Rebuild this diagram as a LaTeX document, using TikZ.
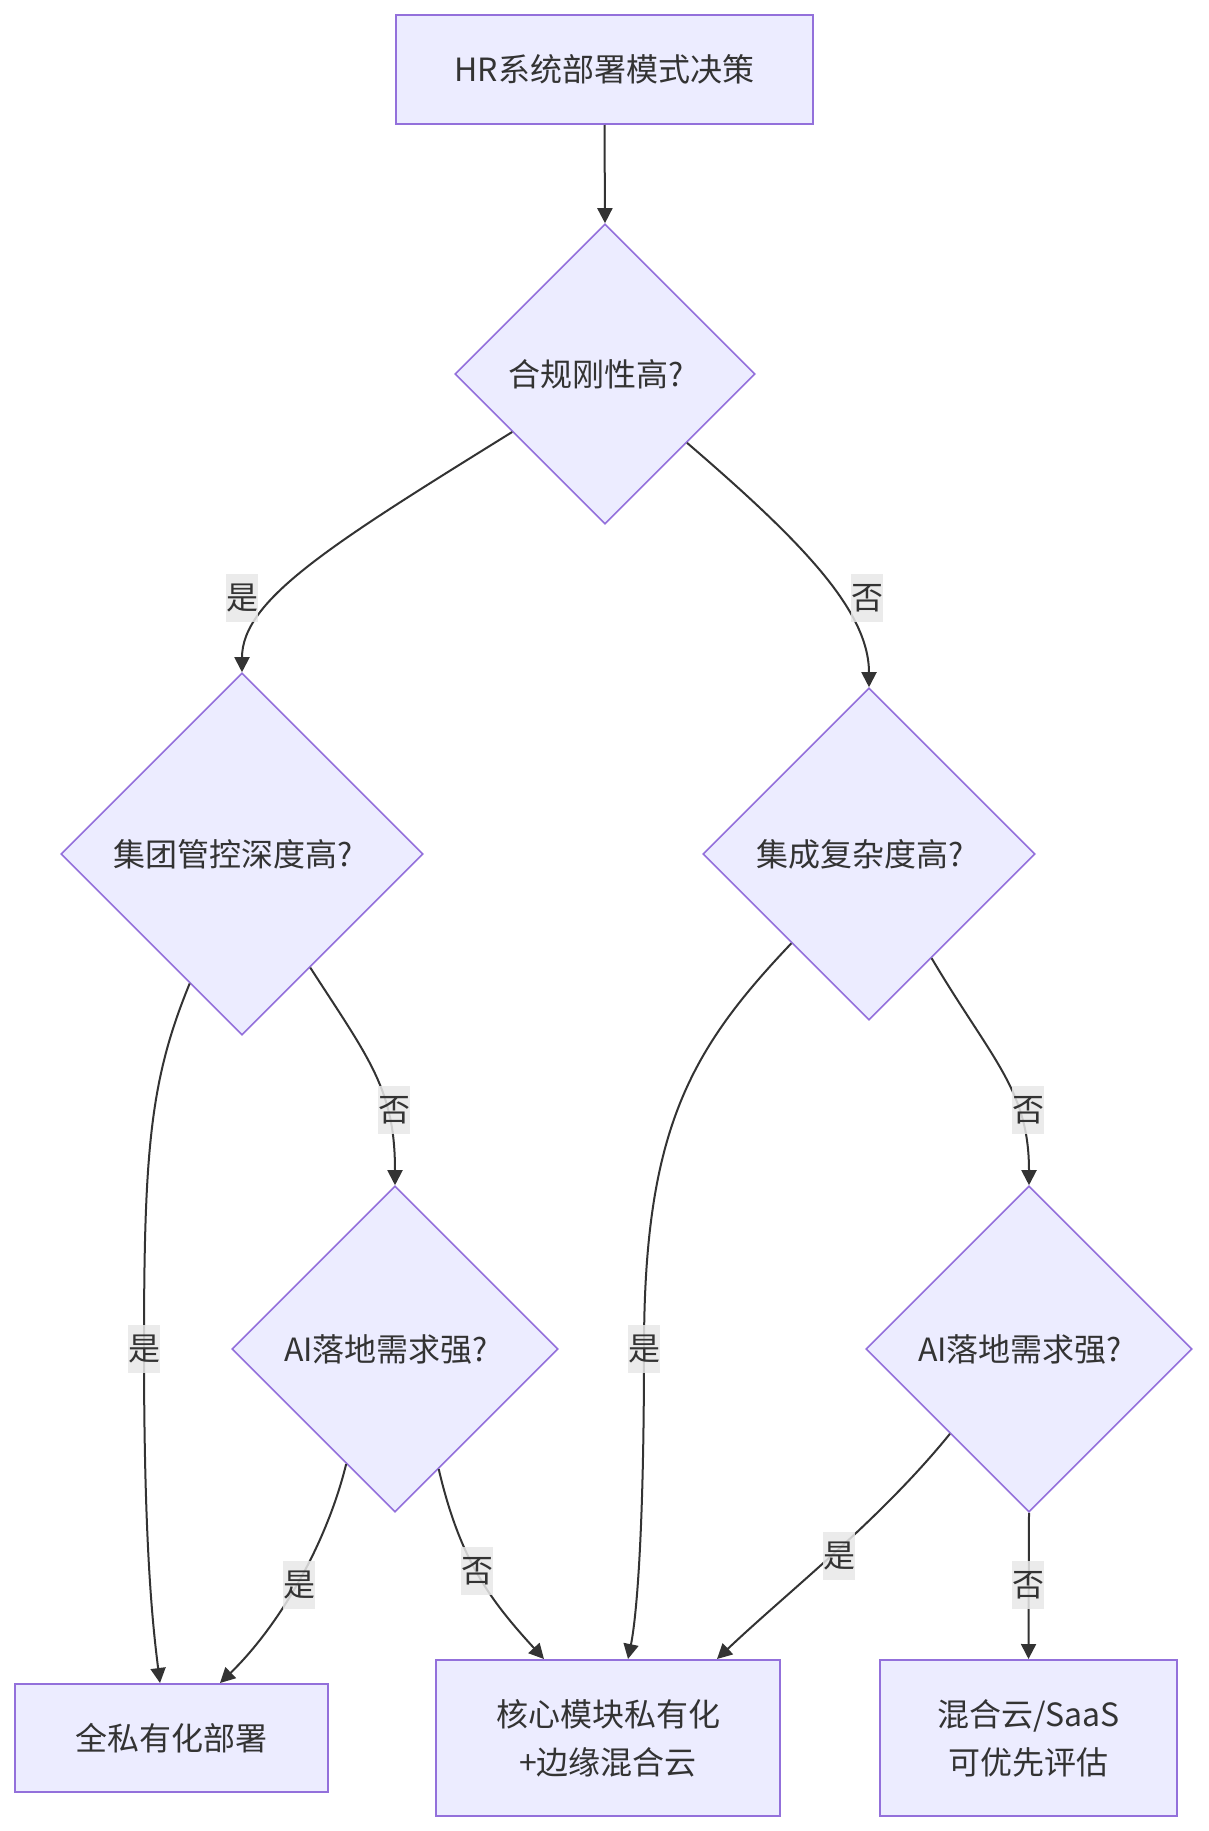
\documentclass[tikz,border=0pt]{standalone}
\usepackage{fontspec}
\setmainfont{Noto Sans CJK SC}
\usetikzlibrary{arrows.meta,shapes.geometric}
\definecolor{nodefill}{HTML}{ECECFF}
\definecolor{nodeline}{HTML}{9370DB}
\definecolor{ink}{HTML}{333333}
\definecolor{lblbg}{HTML}{E8E8E8}
\newcommand{\dshift}{\hspace*{18pt}}
\begin{document}
\begin{tikzpicture}[x=1pt,y=-1pt,
  txt/.style={font=\fontsize{32}{48}\selectfont, text=ink, align=center},
  procbox/.style={txt, draw=nodeline, fill=nodefill, line width=2pt, rectangle, inner sep=0pt},
  decision/.style={txt, draw=nodeline, fill=nodefill, line width=1.6pt, diamond, aspect=1, inner sep=0pt, minimum width=#1, minimum height=#1},
  lbl/.style={txt, fill=lblbg, fill opacity=0.85, text opacity=1, inner sep=0pt, minimum width=32pt, minimum height=48pt},
  flow/.style={draw=ink, line width=2pt, -{Triangle[length=15pt,width=15pt]}},
]
\useasboundingbox[fill=white] (0,0) rectangle (1209,1831);

\node[procbox, minimum width=417pt, minimum height=109pt] (start) at (604.5,69.5) {HR系统部署模式决策};
\node[decision=300pt] (d1) at (605,374) {合规刚性高?\dshift};
\node[decision=362pt] (d2) at (242,854) {集团管控深度高?\dshift};
\node[decision=332pt] (d3) at (869,854) {集成复杂度高?\dshift};
\node[decision=326pt] (d4) at (395,1349) {AI落地需求强?\dshift};
\node[decision=326pt] (d5) at (1029,1349) {AI落地需求强?\dshift};
\node[procbox, minimum width=313pt, minimum height=108pt] (a) at (171.5,1738) {全私有化部署};
\node[procbox, minimum width=344pt, minimum height=156pt] (b) at (608,1738) {核心模块私有化\\+边缘混合云};
\node[procbox, minimum width=297pt, minimum height=156pt] (c) at (1028.5,1738) {混合云/SaaS\\可优先评估};

\draw[flow] (start.south) -- (d1.north);
\draw[flow] (d1.212) .. controls (330,545) and (242,600) .. (d2.north);
\draw[flow] (d1.320) .. controls (800,540) and (869,610) .. (d3.north);
\draw[flow] (d2.301) .. controls (370,1060) and (395,1090) .. (d4.north);
\draw[flow] (d3.301) .. controls (992,1060) and (1029,1090) .. (d5.north);
\draw[flow] (d2.248) .. controls (150,1080) and (144,1150) .. (144,1349) .. controls (144,1540) and (152,1620) .. ([xshift=-11.5pt]a.north);
\draw[flow] (d3.229) .. controls (690,1050) and (644,1130) .. (644,1349) .. controls (644,1540) and (636,1620) .. ([xshift=20pt]b.north);
\draw[flow] (d4.247) .. controls (325,1550) and (275,1630) .. ([xshift=48.5pt]a.north);
\draw[flow] (d4.290) .. controls (460,1560) and (490,1600) .. ([xshift=-64pt]b.north);
\draw[flow] (d5.227) .. controls (880,1520) and (790,1590) .. ([xshift=109pt]b.north);
\draw[flow] (d5.south) -- (c.north);

\node[lbl] (l1) at (242,598) {是};
\node[lbl] (l2) at (867,598) {否};
\node[lbl] (l3) at (394,1110) {否};
\node[lbl] (l4) at (1028,1110) {否};
\node[lbl] (l5) at (144,1349) {是};
\node[lbl] (l6) at (644,1349) {是};
\node[lbl] (l7) at (299,1585) {是};
\node[lbl] (l8) at (477,1571) {否};
\node[lbl] (l9) at (839,1556) {是};
\node[lbl] (l10) at (1028,1585) {否};
\end{tikzpicture}
\end{document}
